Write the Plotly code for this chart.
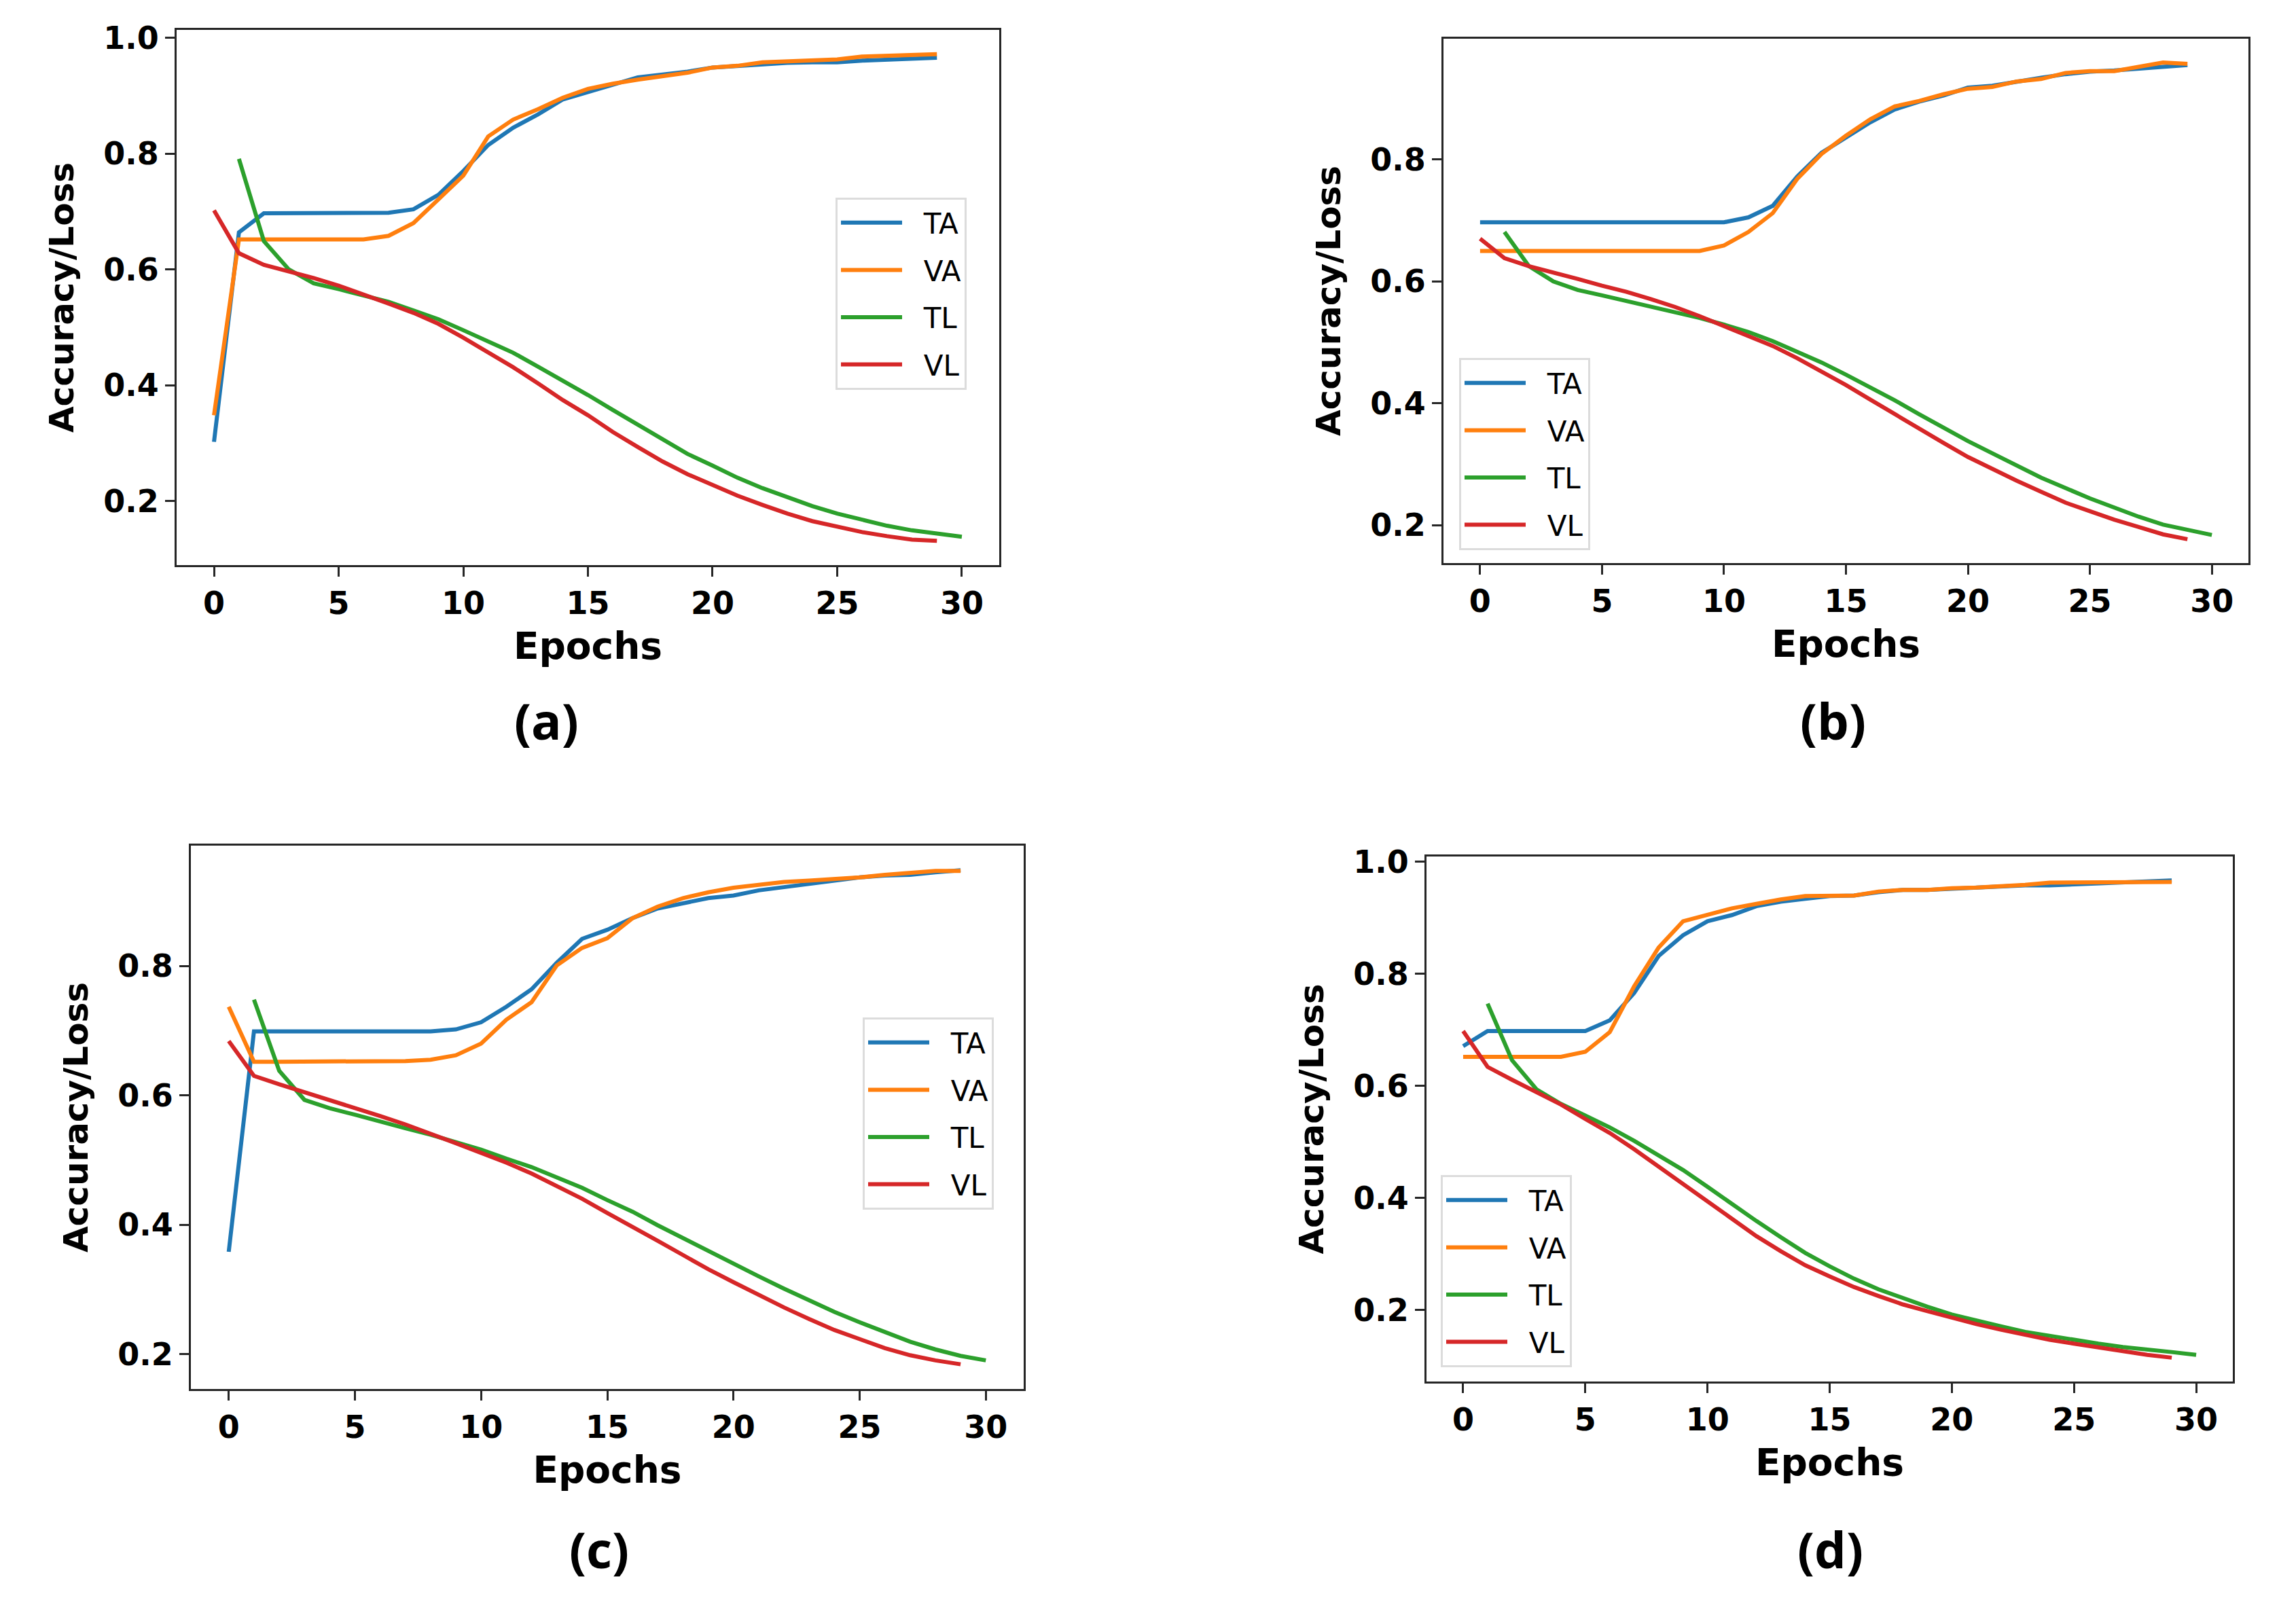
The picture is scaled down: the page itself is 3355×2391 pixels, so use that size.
import plotly.graph_objects as go

# epochs: accuracy curves + val loss start at 0, train loss starts at 1
ep = list(range(0, 30))
ep_tl = list(range(1, 31))

#%% panel (a)
ta_a = [0.302, 0.664, 0.697, 0.697, 0.697, 0.697, 0.697, 0.698, 0.704, 0.729,
        0.770, 0.815, 0.845, 0.868, 0.894, 0.907, 0.919, 0.932, 0.937, 0.942,
        0.949, 0.952, 0.955, 0.957, 0.958, 0.958, 0.961, 0.963, 0.964, 0.966]
va_a = [0.348, 0.652, 0.652, 0.652, 0.652, 0.652, 0.652, 0.658, 0.680, 0.721,
        0.762, 0.830, 0.859, 0.877, 0.897, 0.912, 0.921, 0.928, 0.934, 0.940,
        0.949, 0.952, 0.958, 0.960, 0.962, 0.963, 0.968, 0.969, 0.970, 0.972]
tl_a = [0.791, 0.649, 0.600, 0.576, 0.566, 0.555, 0.544, 0.529, 0.514, 0.495,
        0.476, 0.456, 0.432, 0.408, 0.383, 0.357, 0.331, 0.306, 0.281, 0.261,
        0.240, 0.222, 0.206, 0.191, 0.178, 0.167, 0.157, 0.149, 0.143, 0.138]
vl_a = [0.702, 0.628, 0.608, 0.597, 0.585, 0.572, 0.557, 0.541, 0.525, 0.506,
        0.482, 0.457, 0.431, 0.403, 0.374, 0.348, 0.319, 0.293, 0.268, 0.246,
        0.227, 0.209, 0.193, 0.178, 0.165, 0.155, 0.146, 0.139, 0.133, 0.131]

#%% panel (b)
ta_b = [0.697, 0.697, 0.697, 0.697, 0.697, 0.697, 0.697, 0.697, 0.697, 0.697,
        0.697, 0.705, 0.724, 0.772, 0.811, 0.836, 0.861, 0.882, 0.895, 0.905,
        0.918, 0.921, 0.928, 0.934, 0.940, 0.944, 0.946, 0.949, 0.952, 0.955]
va_b = [0.650, 0.650, 0.650, 0.650, 0.650, 0.650, 0.650, 0.650, 0.650, 0.650,
        0.659, 0.681, 0.712, 0.768, 0.809, 0.839, 0.866, 0.887, 0.896, 0.907,
        0.916, 0.919, 0.928, 0.932, 0.942, 0.945, 0.945, 0.952, 0.959, 0.957]
tl_b = [0.681, 0.625, 0.600, 0.586, 0.577, 0.568, 0.559, 0.550, 0.540, 0.529,
        0.517, 0.502, 0.485, 0.467, 0.447, 0.426, 0.405, 0.382, 0.360, 0.338,
        0.318, 0.298, 0.278, 0.261, 0.244, 0.229, 0.214, 0.201, 0.192, 0.184]
vl_b = [0.670, 0.638, 0.625, 0.615, 0.604, 0.593, 0.583, 0.571, 0.558, 0.543,
        0.527, 0.511, 0.494, 0.474, 0.452, 0.430, 0.406, 0.382, 0.358, 0.335,
        0.312, 0.292, 0.273, 0.255, 0.237, 0.223, 0.209, 0.197, 0.185, 0.177]

#%% panel (c)
ta_c = [0.358, 0.699, 0.699, 0.699, 0.699, 0.699, 0.699, 0.699, 0.699, 0.702,
        0.713, 0.737, 0.764, 0.805, 0.842, 0.856, 0.874, 0.889, 0.897, 0.905,
        0.909, 0.917, 0.922, 0.927, 0.932, 0.937, 0.940, 0.941, 0.945, 0.948]
va_c = [0.737, 0.652, 0.652, 0.652, 0.652, 0.652, 0.652, 0.653, 0.655, 0.662,
        0.680, 0.717, 0.744, 0.801, 0.828, 0.843, 0.874, 0.892, 0.905, 0.914,
        0.921, 0.926, 0.930, 0.932, 0.934, 0.937, 0.941, 0.944, 0.947, 0.947]
tl_c = [0.748, 0.638, 0.593, 0.580, 0.570, 0.559, 0.549, 0.539, 0.528, 0.516,
        0.502, 0.489, 0.473, 0.457, 0.438, 0.420, 0.399, 0.379, 0.359, 0.339,
        0.320, 0.301, 0.283, 0.265, 0.249, 0.234, 0.219, 0.207, 0.197, 0.190]
vl_c = [0.684, 0.630, 0.617, 0.605, 0.593, 0.581, 0.568, 0.555, 0.541, 0.526,
        0.511, 0.496, 0.479, 0.460, 0.440, 0.418, 0.397, 0.375, 0.353, 0.331,
        0.311, 0.291, 0.272, 0.254, 0.237, 0.223, 0.209, 0.198, 0.190, 0.184]

#%% panel (d)
ta_d = [0.671, 0.698, 0.698, 0.698, 0.698, 0.698, 0.717, 0.766, 0.832, 0.869,
        0.894, 0.905, 0.921, 0.929, 0.934, 0.939, 0.940, 0.946, 0.950, 0.950,
        0.952, 0.954, 0.956, 0.958, 0.958, 0.960, 0.962, 0.964, 0.965, 0.967]
va_d = [0.652, 0.652, 0.652, 0.652, 0.652, 0.661, 0.696, 0.778, 0.847, 0.894,
        0.905, 0.917, 0.925, 0.933, 0.939, 0.940, 0.940, 0.947, 0.950, 0.950,
        0.953, 0.954, 0.956, 0.959, 0.963, 0.963, 0.964, 0.964, 0.964, 0.964]
tl_d = [0.747, 0.646, 0.594, 0.568, 0.547, 0.526, 0.502, 0.477, 0.450, 0.420,
        0.389, 0.359, 0.330, 0.302, 0.278, 0.256, 0.237, 0.221, 0.206, 0.192,
        0.181, 0.171, 0.161, 0.154, 0.146, 0.140, 0.134, 0.130, 0.125, 0.120]
vl_d = [0.698, 0.634, 0.611, 0.590, 0.567, 0.541, 0.516, 0.487, 0.456, 0.423,
        0.392, 0.361, 0.332, 0.305, 0.280, 0.260, 0.241, 0.225, 0.210, 0.198,
        0.186, 0.175, 0.165, 0.156, 0.147, 0.140, 0.133, 0.127, 0.120, 0.115]

names = ['TA', 'VA', 'TL', 'VL']
colors = ['#1f77b4', '#ff7f0e', '#2ca02c', '#d62728']
panel_labels = ['(a)', '(b)', '(c)', '(d)']

W, H = 3355, 2391

# pixel boxes of each axes: left, right, top, bottom
boxes = [(252, 1463, 36, 824), (2117, 3302, 49, 821),
         (273, 1499, 1237, 2037), (2092, 3279, 1253, 2026)]
legend_pos = [(1222, 283), (2140, 519), (1262, 1490), (2113, 1722)]
label_pos = [(796, 1052), (2690, 1052), (874, 2272), (2686, 2272)]

panels = [(ta_a, va_a, tl_a, vl_a), (ta_b, va_b, tl_b, vl_b),
          (ta_c, va_c, tl_c, vl_c), (ta_d, va_d, tl_d, vl_d)]

fig = go.Figure()
axis_font = dict(family='DejaVu Sans', size=46, color='black', weight='bold')
gap = '\u00a0\u00a0'  # a bit of room between the legend line and its text

for i, (ta, va, tl, vl) in enumerate(panels):
    n = '' if i == 0 else str(i + 1)
    leg = 'legend' + n
    series = [(ep, ta), (ep, va), (ep_tl, tl), (ep, vl)]
    for j, (xs, ys) in enumerate(series):
        fig.add_trace(go.Scatter(x=xs, y=ys, mode='lines', name=gap + names[j],
                                 line=dict(color=colors[j], width=6),
                                 xaxis='x' + n, yaxis='y' + n, legend=leg,
                                 legendgroup=names[j] + n))

    # matplotlib style 5% margins
    allv = ta + va + tl + vl
    lo, hi = min(allv), max(allv)
    pad = 0.05 * (hi - lo)

    l, r, t, b = boxes[i]
    common = dict(showgrid=False, zeroline=False, showline=True, mirror=True,
                  linecolor='#262626', linewidth=3, ticks='outside', ticklen=14,
                  tickwidth=3, tickcolor='#262626', tickfont=axis_font,
                  automargin=False)
    fig.update_layout({
        'xaxis' + n: dict(domain=[l / W, r / W], anchor='y' + n,
                          range=[-1.5, 31.5], tickvals=[0, 5, 10, 15, 20, 25, 30],
                          title=dict(text='Epochs', standoff=18,
                                     font=dict(family='DejaVu Sans', size=55,
                                               color='black', weight='bold')),
                          **common),
        'yaxis' + n: dict(domain=[1 - b / H, 1 - t / H], anchor='x' + n,
                          range=[lo - pad, hi + pad], dtick=0.2, tick0=0,
                          tickformat='.1f',
                          title=dict(text='Accuracy/Loss', standoff=28,
                                     font=dict(family='DejaVu Sans', size=50,
                                               color='black', weight='bold')),
                          **common),
        leg: dict(x=legend_pos[i][0] / W, y=1 - legend_pos[i][1] / H,
                  xanchor='left', yanchor='top', bgcolor='white',
                  bordercolor='#dcdcdc', borderwidth=3, itemwidth=90,
                  tracegroupgap=12,
                  font=dict(family='DejaVu Sans', size=42, color='black')),
    })

    fig.add_annotation(text=panel_labels[i], x=label_pos[i][0] / W,
                       y=1 - label_pos[i][1] / H, xref='paper', yref='paper',
                       showarrow=False, xanchor='center', yanchor='middle',
                       font=dict(family='Open Sans', size=74, color='black',
                                 weight='bold'))

fig.update_layout(width=W, height=H, margin=dict(l=0, r=0, t=0, b=0),
                  paper_bgcolor='white', plot_bgcolor='white')

fig.write_html("out.html")
